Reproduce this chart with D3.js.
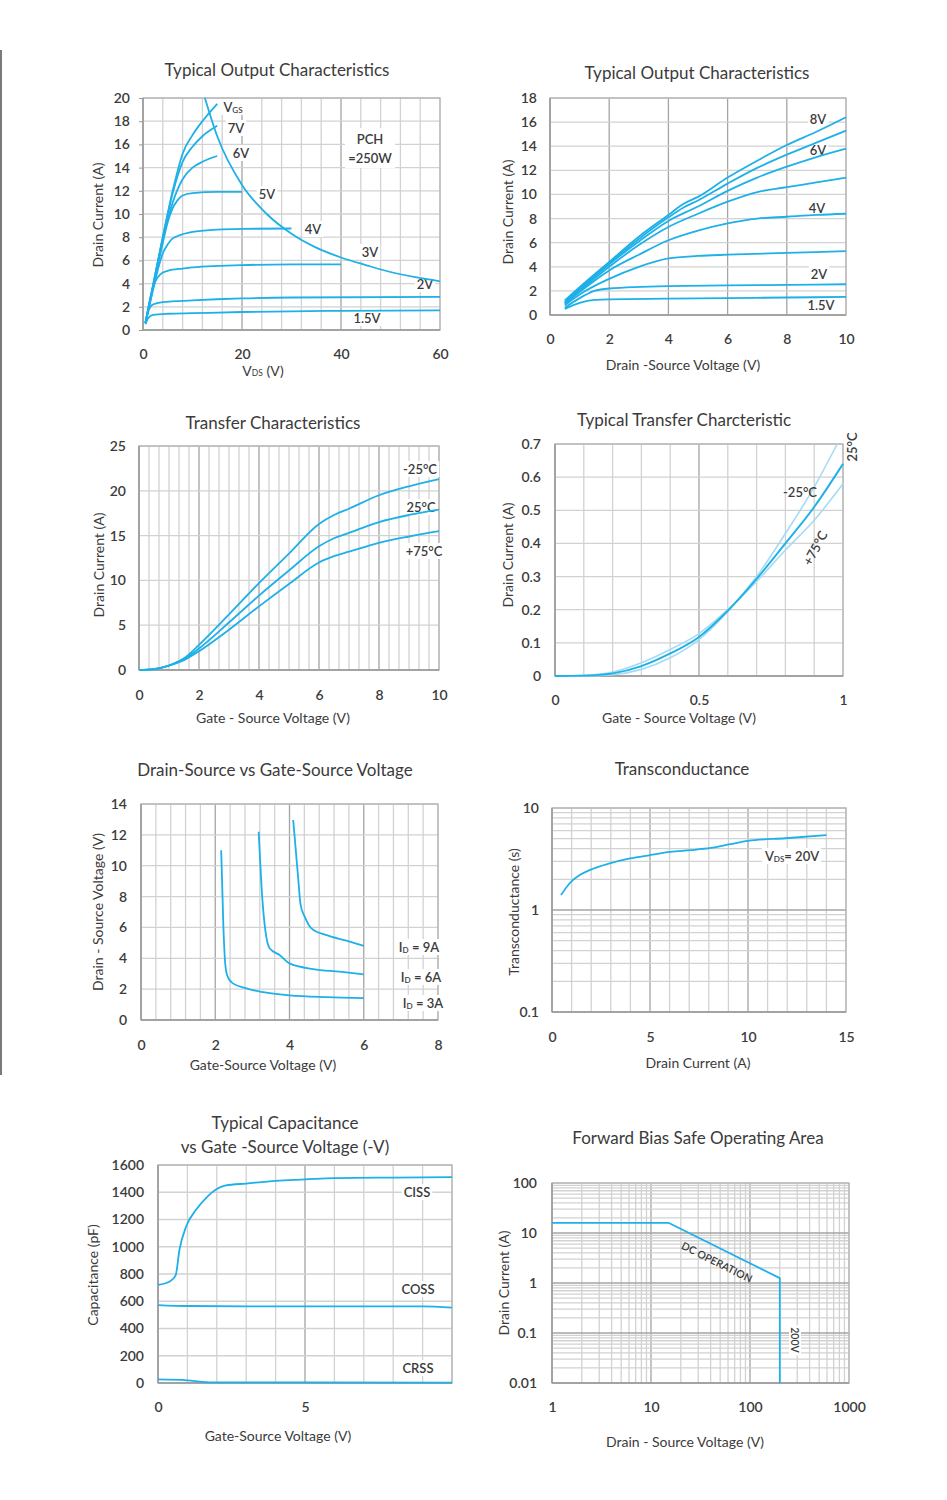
<!DOCTYPE html>
<html><head><meta charset="utf-8">
<script src="https://cdn.jsdelivr.net/npm/d3@7"></script>
<style>
body{margin:0;background:#fff}
svg{display:block}
text{font-family:Lato,'Open Sans',sans-serif;fill:#3b3b3b}
</style>
</head><body><script>
// ---------------- DATA ----------------
// Panel 1: Typical Output Characteristics (VDS 0-60 V)
const p1Labels = ["VGS","7V","6V","5V","4V","3V","2V","1.5V"];
const p1_8V = [[0.5,0.6],[2,3.8],[4,8],[6,12],[8,15.2],[10,16.8],[12,18],[15,19.5]];
const p1_7V = [[0.5,0.6],[2,3.8],[4,8],[6,11.8],[8,14.5],[10,15.8],[12,16.7],[15,17.6]];
const p1_6V = [[0.5,0.6],[2,3.7],[4,7.8],[6,11],[8,13],[10,14],[12,14.5],[15,15]];
const p1_5V = [[0.5,0.6],[2,3.6],[4,7.5],[5,9.3],[6,10.5],[7,11.2],[8,11.6],[10,11.8],[15,11.9],[20,11.9]];
const p1_4V = [[0.5,0.6],[2,3.4],[3,5.2],[4,6.6],[5,7.4],[6,7.9],[7,8.1],[10,8.45],[15,8.65],[20,8.72],[30,8.75]];
const p1_3V = [[0.5,0.6],[1.5,2.8],[2.5,4.2],[3.5,4.8],[5,5.1],[8,5.3],[10,5.4],[20,5.6],[30,5.65],[40,5.65]];
const p1_2V = [[0.5,0.6],[1,1.5],[2,2.2],[4,2.4],[10,2.55],[20,2.72],[30,2.8],[60,2.85]];
const p1_15V = [[0.5,0.5],[1,1.0],[2,1.3],[5,1.4],[10,1.45],[20,1.55],[40,1.65],[60,1.7]];
const p1_PCH = [[12.5,20],[15,16.7],[20,12.5],[25,10],[30,8.3],[35,7.1],[40,6.25],[45,5.6],[50,5.0],[55,4.55],[60,4.2]];
const p1XTicks = [0,20,40,60];
const p1YTicks = [0,2,4,6,8,10,12,14,16,18,20];

// Panel 2: Typical Output Characteristics (VDS 0-10 V)
const p2Labels = ["8V","6V","4V","2V","1.5V"];
const p2_8V = [[0.5,1.2],[1,2.3],[2,4.4],[3,6.5],[4,8.3],[4.5,9.2],[5,9.8],[6,11.4],[7,12.8],[8,14.1],[9,15.2],[10,16.4]];
const p2_7V = [[0.5,1.1],[1,2.2],[2,4.3],[3,6.3],[4,8.1],[4.5,8.9],[5,9.5],[6,10.9],[7,12.2],[8,13.3],[9,14.3],[10,15.3]];
const p2_6V = [[0.5,1.0],[1,2.1],[2,4.2],[3,6.1],[4,7.8],[5,9.0],[6,10.3],[7,11.4],[8,12.3],[9,13.1],[10,13.8]];
const p2_5V = [[0.5,1.0],[1,2.0],[2,4.0],[3,5.8],[4,7.3],[5,8.4],[6,9.4],[7,10.2],[8,10.6],[9,11.0],[10,11.4]];
const p2_4V = [[0.5,0.9],[1,1.9],[2,3.7],[3,5.0],[4,6.2],[5,7.0],[6,7.6],[7,8.0],[8,8.15],[9,8.3],[10,8.4]];
const p2_3V = [[0.5,0.8],[1,1.7],[2,3.0],[3,4.0],[4,4.7],[5,4.9],[6,5.0],[8,5.15],[10,5.3]];
const p2_2V = [[0.5,0.6],[1,1.4],[1.5,2.0],[2,2.2],[4,2.4],[6,2.45],[8,2.5],[10,2.55]];
const p2_15V = [[0.5,0.5],[1,1.0],[1.5,1.25],[2,1.3],[4,1.35],[6,1.4],[8,1.45],[10,1.5]];
const p2XTicks = [0,2,4,6,8,10];
const p2YTicks = [0,2,4,6,8,10,12,14,16,18];

// Panel 3: Transfer Characteristics
const p3Labels = ["-25°C","25°C","+75°C"];
const p3_m25 = [[0,0],[0.5,0.1],[1,0.5],[1.5,1.3],[2,2.8],[3,6.2],[4,9.7],[5,13.0],[6,16.3],[6.5,17.3],[7,18.0],[8,19.5],[9,20.5],[10,21.3]];
const p3_25 = [[0,0],[0.5,0.1],[1,0.5],[1.5,1.2],[2,2.4],[3,5.3],[4,8.3],[5,11.1],[6,13.8],[6.5,14.7],[7,15.3],[8,16.5],[9,17.3],[10,17.9]];
const p3_75 = [[0,0],[0.5,0.1],[1,0.5],[1.5,1.1],[2,2.1],[3,4.5],[4,7.1],[5,9.6],[6,12.0],[6.5,12.7],[7,13.2],[8,14.2],[9,14.9],[10,15.5]];
const p3XTicks = [0,2,4,6,8,10];
const p3YTicks = [0,5,10,15,20,25];

// Panel 4: Typical Transfer Charcteristic (0-1 V)
const p4Labels = ["25°C","-25°C","+75°C"];
const p4_25 = [[0,0],[0.1,0.001],[0.2,0.008],[0.3,0.03],[0.4,0.068],[0.5,0.118],[0.6,0.197],[0.7,0.293],[0.8,0.4],[0.9,0.51],[1.0,0.64]];
const p4_m25 = [[0,0],[0.1,0.0],[0.2,0.004],[0.3,0.02],[0.4,0.055],[0.5,0.11],[0.6,0.195],[0.7,0.3],[0.8,0.43],[0.9,0.57],[0.98,0.7]];
const p4_75 = [[0,0],[0.1,0.002],[0.2,0.012],[0.3,0.04],[0.4,0.08],[0.5,0.128],[0.6,0.2],[0.7,0.285],[0.8,0.38],[0.9,0.47],[1.0,0.58]];
const p4XTicks = [0,0.5,1];
const p4YTicks = [0,0.1,0.2,0.3,0.4,0.5,0.6,0.7];

// Panel 5: Drain-Source vs Gate-Source Voltage
const p5Labels = ["9A","6A","3A"];
const p5_3A = [[2.16,11.0],[2.22,6.0],[2.27,3.6],[2.32,2.9],[2.44,2.44],[2.84,2.05],[3.3,1.8],[4.0,1.6],[5.0,1.48],[6.0,1.42]];
const p5_6A = [[3.17,12.2],[3.27,7.8],[3.35,5.8],[3.47,4.64],[3.74,4.2],[4.0,3.67],[4.64,3.3],[5.35,3.13],[6.0,2.96]];
const p5_9A = [[4.1,12.96],[4.23,9.3],[4.3,7.45],[4.41,6.7],[4.59,5.94],[5.0,5.5],[5.53,5.14],[6.0,4.8]];
const p5XTicks = [0,2,4,6,8];
const p5YTicks = [0,2,4,6,8,10,12,14];

// Panel 6: Transconductance
const p6_gfs = [[0.46,1.4],[0.89,1.82],[1.41,2.2],[1.92,2.46],[2.95,2.86],[3.98,3.2],[5.0,3.45],[6.04,3.71],[7.07,3.86],[8.1,4.06],[9.1,4.42],[10.0,4.76],[11.9,5.05],[14.0,5.41]];
const p6XTicks = [0,5,10,15];
const p6YTicks = [0.1,1,10];

// Panel 7: Typical Capacitance
const p7Labels = ["CISS","COSS","CRSS"];
const p7_ciss = [[0,720],[0.4,745],[0.6,790],[0.73,978],[0.96,1150],[1.3,1273],[1.64,1359],[1.97,1420],[2.31,1450],[3.0,1464],[4.0,1484],[5.0,1494],[6.0,1504],[8.0,1508],[10,1511]];
const p7_coss = [[0,572],[1,565],[3,563],[5,563],[7,563],[9,562],[10,553]];
const p7_crss = [[0,26],[1,20],[1.5,9],[2,5],[5,4],[10,3]];
const p7XTicks = [0,5];
const p7YTicks = [0,200,400,600,800,1000,1200,1400,1600];

// Panel 8: Forward Bias Safe Operating Area
const p8_dc = [[1,16],[15,16],[200,1.25],[200,0.01]];
const p8XTicks = [1,10,100,1000];
const p8YTicks = [0.01,0.1,1,10,100];

// ---------------- DRAWING ----------------
const W=947,H=1500;
const BLUE="#1eb0e8", LIGHT="#a5dcf3", MIN="#d2d2d2", MAJ="#a4a4a4";
const TFS=17, AFS=14, LFS=13;
const svg=d3.select("body").append("svg").attr("width",W).attr("height",H);
svg.append("rect").attr("x",0).attr("y",50).attr("width",2).attr("height",1025).attr("fill","#7a7a7a");

function fmtNum(d){return String(d);}

function panel(c){
  const g=svg.append("g");
  const x=(c.xlog?d3.scaleLog():d3.scaleLinear()).domain(c.xd).range([c.l,c.r]);
  const y=(c.ylog?d3.scaleLog():d3.scaleLinear()).domain(c.yd).range([c.b,c.t]);
  const isMaj=(arr,v)=>arr&&arr.some(m=>Math.abs(m-v)<1e-9*Math.max(1,Math.abs(m)));
  const gg=g.append("g");
  c.xg.forEach(v=>gg.append("line").attr("x1",x(v)).attr("x2",x(v)).attr("y1",c.t).attr("y2",c.b)
    .attr("stroke",isMaj(c.xmaj,v)?MAJ:MIN).attr("stroke-width",1.3));
  c.yg.forEach(v=>gg.append("line").attr("y1",y(v)).attr("y2",y(v)).attr("x1",c.l).attr("x2",c.r)
    .attr("stroke",isMaj(c.ymaj,v)?MAJ:MIN).attr("stroke-width",1.3));
  gg.append("rect").attr("x",c.l).attr("y",c.t).attr("width",c.r-c.l).attr("height",c.b-c.t)
    .attr("fill","none").attr("stroke","#b4b4b4").attr("stroke-width",1.3);
  gg.append("line").attr("x1",c.l).attr("x2",c.r).attr("y1",c.b).attr("y2",c.b).attr("stroke","#999").attr("stroke-width",1.5);
  gg.append("line").attr("x1",c.l).attr("x2",c.l).attr("y1",c.t).attr("y2",c.b).attr("stroke","#999").attr("stroke-width",1.5);

  const fs=14;
  const xa=d3.axisBottom(x).tickValues(c.xt).tickFormat(c.xf||fmtNum).tickSizeInner(c.xtick||0).tickSizeOuter(0)
    .tickPadding(c.xty-c.b-0.36*fs-(c.xtick||0));
  const xg=g.append("g").attr("transform",`translate(0,${c.b})`).call(xa);
  const ya=d3.axisLeft(y).tickValues(c.yt).tickFormat(c.yf||fmtNum).tickSizeInner(c.ytick||0).tickSizeOuter(0)
    .tickPadding(c.l-c.ytx-(c.ytick||0));
  const yg=g.append("g").attr("transform",`translate(${c.l},0)`).call(ya);
  [xg,yg].forEach(a=>{
    a.select(".domain").remove();
    a.selectAll(".tick line").attr("stroke","#999");
    a.selectAll("text").attr("font-family","Lato,sans-serif").attr("font-size",fs).attr("font-weight",600).attr("fill","#3b3b3b");
  });
  return {g,x,y};
}

function title(lines, cx, cy){
  lines.forEach((t,i)=>svg.append("text").attr("x",cx).attr("y",cy+i*24).attr("text-anchor","middle")
    .attr("dominant-baseline","central").attr("font-size",TFS).text(t));
}
function xTitle(t,cx,cy){
  return svg.append("text").attr("x",cx).attr("y",cy).attr("text-anchor","middle").attr("dominant-baseline","central")
    .attr("font-size",AFS).text(t);
}
function yTitle(t,cx,cy){
  return svg.append("text").attr("transform",`translate(${cx},${cy}) rotate(-90)`).attr("text-anchor","middle")
    .attr("dominant-baseline","central").attr("font-size",AFS).text(t);
}
function drawCurve(P,data,color,width,curve){
  const line=d3.line().x(d=>P.x(d[0])).y(d=>P.y(d[1])).curve(curve||d3.curveMonotoneX);
  P.g.append("path").attr("d",line(data)).attr("fill","none").attr("stroke",color||BLUE)
    .attr("stroke-width",width||1.8).attr("stroke-linejoin","round");
}
function label(P,t,px,py,opt){
  opt=opt||{};
  const f=opt.fs||LFS;
  const grp=P.g.append("g").attr("transform",`translate(${px},${py})${opt.rot?` rotate(${opt.rot})`:""}`);
  const bg=grp.append("rect").attr("fill","#fff");
  const tx=grp.append("text").attr("text-anchor","middle").attr("dominant-baseline","central")
    .attr("font-size",f).attr("font-weight",opt.fw||600);
  if(opt.sub){
    tx.append("tspan").text(t[0]);
    tx.append("tspan").attr("font-size",f*0.62).attr("dy",3).text(t[1]);
    tx.append("tspan").attr("dy",-3).text(t[2]);
  } else tx.text(t);
  if(opt.box!==false){
    const b=tx.node().getBBox();
    bg.attr("x",b.x-2).attr("y",b.y).attr("width",b.width+4).attr("height",b.height);
  }
  return grp;
}

// ---------- Panel 1 ----------
{
  const P=panel({l:143,r:440,t:98,b:330,xd:[0,60],yd:[0,20],
    xg:d3.range(0,61,4),xmaj:[20,40],yg:d3.range(0,21,2),
    xt:p1XTicks,yt:p1YTicks,xty:354,ytx:130,ytick:4});
  title(["Typical Output Characteristics"],277,69);
  const xt=svg.append("text").attr("x",263).attr("y",370).attr("text-anchor","middle").attr("dominant-baseline","central").attr("font-size",AFS);
  xt.append("tspan").text("V"); xt.append("tspan").attr("font-size",8.5).attr("dy",3).text("DS"); xt.append("tspan").attr("dy",-3).text("  (V)");
  yTitle("Drain Current  (A)",97,215);
  const labs=[
    [p1Labels[1],236,128],[p1Labels[2],241,153],[p1Labels[3],267,194],[p1Labels[4],313,229],
    [p1Labels[5],370,252],[p1Labels[6],425,284],[p1Labels[7],367,318]];
  labs.forEach(l=>label(P,l[0],l[1],l[2]));
  label(P,["V","GS",""],233,107,{sub:true});
  const pch=P.g.append("g");
  pch.append("rect").attr("x",345).attr("y",128).attr("width",50).attr("height",40).attr("fill","#fff");
  pch.append("text").attr("x",370).attr("y",139).attr("text-anchor","middle").attr("dominant-baseline","central").attr("font-size",LFS).attr("font-weight",600).text("PCH");
  pch.append("text").attr("x",370).attr("y",158).attr("text-anchor","middle").attr("dominant-baseline","central").attr("font-size",LFS).attr("font-weight",600).text("=250W");
  [p1_8V,p1_7V,p1_6V,p1_5V,p1_4V,p1_3V,p1_2V,p1_15V,p1_PCH].forEach(d=>drawCurve(P,d));
}

// ---------- Panel 2 ----------
{
  const P=panel({l:550,r:846,t:98,b:315,xd:[0,10],yd:[0,18],
    xg:d3.range(0,11,2),xmaj:[2,4,6,8],yg:d3.range(0,19,2),
    xt:p2XTicks,yt:p2YTicks,xty:339,ytx:537});
  title(["Typical Output Characteristics"],697,72);
  xTitle("Drain -Source Voltage (V)",683,364);
  yTitle("Drain Current  (A)",507,212);
  [[p2Labels[0],818,119],[p2Labels[1],818,150],[p2Labels[2],817,208],[p2Labels[3],819,274],[p2Labels[4],821,305]]
    .forEach(l=>label(P,l[0],l[1],l[2]));
  [p2_8V,p2_7V,p2_6V,p2_5V,p2_4V,p2_3V,p2_2V,p2_15V].forEach(d=>drawCurve(P,d));
}

// ---------- Panel 3 ----------
{
  const P=panel({l:139,r:439,t:446,b:670,xd:[0,10],yd:[0,25],
    xg:d3.range(0,31).map(i=>i/3),xmaj:[2,4,6,8],yg:d3.range(0,26,5),
    xt:p3XTicks,yt:p3YTicks,xty:695,ytx:126});
  title(["Transfer Characteristics"],273,422);
  xTitle("Gate - Source Voltage (V)",273,717);
  yTitle("Drain Current   (A)",98,565);
  [[p3Labels[0],420,469],[p3Labels[1],421,507],[p3Labels[2],424,551]].forEach(l=>label(P,l[0],l[1],l[2]));
  [p3_m25,p3_25,p3_75].forEach(d=>drawCurve(P,d));
}

// ---------- Panel 4 ----------
{
  const P=panel({l:555,r:843,t:444,b:676,xd:[0,1],yd:[0,0.7],
    xg:d3.range(0,11).map(i=>i/10),xmaj:[0.5],yg:d3.range(0,8).map(i=>i/10),
    xt:p4XTicks,yt:p4YTicks,xty:700,ytx:541});
  title(["Typical Transfer Charcteristic"],684,419);
  xTitle("Gate - Source Voltage (V)",679,717);
  yTitle("Drain Current (A)",507,555);
  drawCurve(P,p4_m25,LIGHT,1.6);
  drawCurve(P,p4_75,LIGHT,1.6);
  drawCurve(P,p4_25,BLUE,1.9);
  label(P,p4Labels[0],852,447,{rot:-90,box:false});
  label(P,p4Labels[1],800,492,{box:false});
  label(P,p4Labels[2],815,548,{rot:-62,box:false});
}

// ---------- Panel 5 ----------
{
  const P=panel({l:141,r:438,t:804,b:1020,xd:[0,8],yd:[0,14],
    xg:d3.range(0,21).map(i=>i*0.4),xmaj:[2,4,6],yg:d3.range(0,15,2),
    xt:p5XTicks,yt:p5YTicks,xty:1045,ytx:127});
  title(["Drain-Source vs Gate-Source Voltage"],275,769);
  xTitle("Gate-Source  Voltage (V)",263,1064);
  yTitle("Drain - Source Voltage (V)",97,912);
  label(P,["I","D"," = "+p5Labels[0]],419,947,{sub:true});
  label(P,["I","D"," = "+p5Labels[1]],421,977,{sub:true});
  label(P,["I","D"," = "+p5Labels[2]],423,1003,{sub:true});
  [p5_3A,p5_6A,p5_9A].forEach(d=>drawCurve(P,d));
}

// ---------- Panel 6 ----------
{
  const yg=[];[0.1,1].forEach(d=>{for(let k=1;k<10;k++)yg.push(d*k);});yg.push(10);
  const P=panel({l:552,r:846,t:808,b:1012,xd:[0,15],yd:[0.1,10],ylog:true,
    xg:d3.range(0,16),xmaj:[5,10],yg:yg,ymaj:[1],
    xt:p6XTicks,yt:p6YTicks,xty:1037,ytx:539});
  title(["Transconductance"],682,768);
  xTitle("Drain Current (A)",698,1062);
  yTitle("Transconductance (s)",513,912);
  label(P,["V","DS","= 20V"],792,856,{sub:true});
  drawCurve(P,p6_gfs);
}

// ---------- Panel 7 ----------
{
  const P=panel({l:158,r:452,t:1165,b:1383,xd:[0,10],yd:[0,1600],
    xg:d3.range(0,11),xmaj:[5],yg:d3.range(0,1601,200),
    xt:p7XTicks,yt:p7YTicks,xty:1407,ytx:144});
  title(["Typical Capacitance","vs Gate -Source Voltage (-V)"],285,1122);
  xTitle("Gate-Source Voltage  (V)",278,1435);
  yTitle("Capacitance (pF)",92,1275);
  [[p7Labels[0],417,1192],[p7Labels[1],418,1289],[p7Labels[2],418,1368]].forEach(l=>label(P,l[0],l[1],l[2]));
  [p7_ciss,p7_coss,p7_crss].forEach(d=>drawCurve(P,d));
}

// ---------- Panel 8 ----------
{
  const xg=[];[1,10,100].forEach(d=>{for(let k=1;k<10;k++)xg.push(d*k);});xg.push(1000);
  const yg=[];[0.01,0.1,1,10].forEach(d=>{for(let k=1;k<10;k++)yg.push(d*k);});yg.push(100);
  const P=panel({l:552,r:849,t:1183,b:1383,xd:[1,1000],yd:[0.01,100],xlog:true,ylog:true,
    xg:xg,xmaj:[10,100],yg:yg,ymaj:[0.1,1,10],
    xt:p8XTicks,yt:p8YTicks,xty:1407,ytx:537});
  title(["Forward Bias Safe Operating Area"],698,1137);
  xTitle("Drain - Source Voltage  (V)",685,1441);
  yTitle("Drain Current  (A)",503,1283);
  label(P,"200V",795,1340,{rot:90,fs:10.5});
  drawCurve(P,p8_dc,BLUE,1.8,d3.curveLinear);
  label(P,"DC OPERATION",717,1262,{rot:26.5,fs:10.5,box:false});
}
</script></body></html>
